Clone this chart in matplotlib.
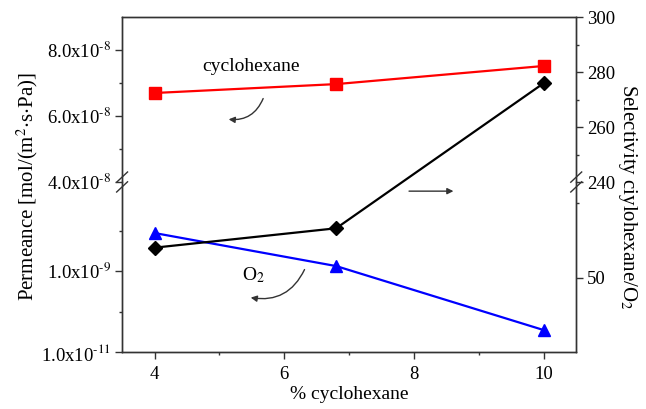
import matplotlib
matplotlib.use("Agg")
import matplotlib.pyplot as plt
from matplotlib.patches import ConnectionPatch
from matplotlib.ticker import FixedLocator, FixedFormatter

plt.rcParams['font.family'] = ['Liberation Serif', 'DejaVu Serif']
plt.rcParams['mathtext.fontset'] = 'stix'

# data
conc = [4, 6.8, 10]
perm_cyclohexane = [6.70e-8, 6.97e-8, 7.52e-8]   # left axis, upper part
perm_o2 = [8.7e-9, 1.33e-9, 3.5e-11]            # left axis, lower (log) part
selectivity = [70, 83, 276]                     # right axis (first two below the break)

left_top_ticks = [4e-8, 6e-8, 8e-8]
left_top_labels = [r'4.0x10$^{\text{-}8}$', r'6.0x10$^{\text{-}8}$', r'8.0x10$^{\text{-}8}$']
left_bot_ticks = [1e-11, 1e-9]
left_bot_labels = [r'1.0x10$^{\text{-}11}$', r'1.0x10$^{\text{-}9}$']
right_top_ticks = [240, 260, 280, 300]
right_bot_ticks = [50]
x_ticks = [4, 6, 8, 10]

fig = plt.figure(figsize=(6.46, 4.09), dpi=100)
L, R, B, T, BRK = 0.189, 0.892, 0.139, 0.958, 0.555
ax_top = fig.add_axes([L, BRK, R - L, T - BRK])
ax_bot = fig.add_axes([L, B, R - L, BRK - B], sharex=ax_top)
ax_top_r = ax_top.twinx()
ax_bot_r = ax_bot.twinx()

spine_col = '#333333'
for ax in (ax_top, ax_bot, ax_top_r, ax_bot_r):
    for s in ax.spines.values():
        s.set_color(spine_col)
        s.set_linewidth(1.0)
    ax.tick_params(which='both', direction='out', colors=spine_col, labelcolor='black',
                   labelsize=13.5)
    ax.tick_params(which='major', length=5, width=1, pad=3)
    ax.tick_params(which='minor', length=2.5, width=1)
    ax.set_xlim(3.5, 10.5)

for ax in (ax_top, ax_top_r):
    ax.spines['bottom'].set_visible(False)
    ax.tick_params(axis='x', which='both', bottom=False, labelbottom=False)
for ax in (ax_bot, ax_bot_r):
    ax.spines['top'].set_visible(False)

# limits and ticks
ax_top.set_ylim(4e-8, 9e-8)
ax_top.yaxis.set_major_locator(FixedLocator(left_top_ticks))
ax_top.yaxis.set_major_formatter(FixedFormatter(left_top_labels))
ax_top.yaxis.set_minor_locator(FixedLocator([5e-8, 7e-8]))

ax_bot.set_yscale('log')
ax_bot.set_ylim(1e-11, 1.58e-7)
ax_bot.yaxis.set_major_locator(FixedLocator(left_bot_ticks))
ax_bot.yaxis.set_major_formatter(FixedFormatter(left_bot_labels))
ax_bot.yaxis.set_minor_locator(FixedLocator([1e-10, 1e-8]))
ax_bot.yaxis.set_minor_formatter(FixedFormatter(['', '']))

ax_top_r.set_ylim(240, 300)
ax_top_r.yaxis.set_major_locator(FixedLocator(right_top_ticks))
ax_top_r.yaxis.set_minor_locator(FixedLocator([250, 270, 290]))

ax_bot_r.set_ylim(0, 114)
ax_bot_r.yaxis.set_major_locator(FixedLocator(right_bot_ticks))
ax_bot_r.yaxis.set_minor_locator(FixedLocator([100]))

ax_bot.xaxis.set_major_locator(FixedLocator(x_ticks))
ax_bot.xaxis.set_minor_locator(FixedLocator([5, 7, 9]))
ax_bot.tick_params(axis='x', which='major', pad=5)
ax_bot.set_xlabel('% cyclohexane', fontsize=14, labelpad=2)

# series
ax_top.plot(conc, perm_cyclohexane, color='#ff0000', lw=1.6, marker='s', ms=8,
            mec='#ff0000', clip_on=False, zorder=3)
ax_bot.plot(conc, perm_o2, color='#0000ff', lw=1.6, marker='^', ms=9,
            mec='#0000ff', clip_on=False, zorder=3)
ax_bot_r.plot(conc[:2], selectivity[:2], color='black', lw=1.6, marker='D', ms=7,
              zorder=3)
ax_top_r.plot(conc[2:], selectivity[2:], color='black', lw=1.6, marker='D', ms=7,
              clip_on=False, zorder=3)
link = ConnectionPatch(xyA=(conc[1], selectivity[1]), coordsA=ax_bot_r.transData,
                       xyB=(conc[2], selectivity[2]), coordsB=ax_top_r.transData,
                       color='black', lw=1.6, zorder=2)
fig.add_artist(link)

# annotations
ax_top.text(5.49, 7.5e-8, 'cyclohexane', fontsize=14, ha='center', va='center')
ax_top.annotate('', xy=(5.10, 5.91e-8), xytext=(5.69, 6.61e-8),
                arrowprops=dict(arrowstyle='-|>', color='#333333', lw=1,
                                connectionstyle='arc3,rad=-0.4', mutation_scale=9))
ax_bot.text(5.52, 8.0e-10, r'O$_2$', fontsize=14, ha='center', va='center')
ax_bot.annotate('', xy=(5.44, 2.28e-10), xytext=(6.33, 1.26e-9),
                arrowprops=dict(arrowstyle='-|>', color='#333333', lw=1,
                                connectionstyle='arc3,rad=-0.4', mutation_scale=9))
ax_bot.annotate('', xy=(8.65, 9.4e-8), xytext=(7.88, 9.4e-8),
                arrowprops=dict(arrowstyle='-|>', color='#333333', lw=1,
                                mutation_scale=9))

# axis break marks
for xa in (0, 1):
    for dy in (-0.012, 0.012):
        ax_bot.plot([xa - 0.012, xa + 0.012], [1 + dy / 0.416 - 0.03, 1 + dy / 0.416 + 0.03],
                    transform=ax_bot.transAxes, color=spine_col, lw=1, clip_on=False)

fig.text(0.042, 0.545, r'Permeance [mol/(m$^2$$\cdot$s$\cdot$Pa)]', rotation=90,
         ha='center', va='center', fontsize=15)
fig.text(0.972, 0.52, r'Selectivity ciylohexane/O$_2$', rotation=270,
         ha='center', va='center', fontsize=15)

fig.savefig('out.png', dpi=100)
